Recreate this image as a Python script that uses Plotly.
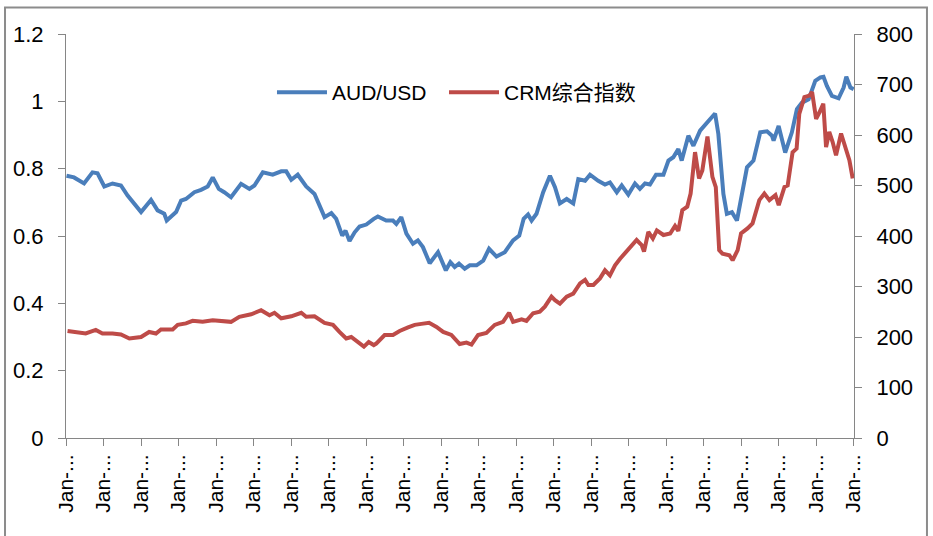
import plotly.graph_objects as go

# AUD/USD (left axis)
aud_dates = [
    "1991-01-06", "1991-03-20", "1991-06-26", "1991-09-16", "1991-11-04", "1992-01-09",
    "1992-03-29", "1992-06-19", "1992-08-23", "1992-10-27", "1993-01-01", "1993-04-08",
    "1993-06-11", "1993-08-15", "1993-09-08", "1993-12-08", "1994-01-26", "1994-03-14",
    "1994-06-04", "1994-08-08", "1994-10-12", "1994-11-30", "1995-01-28", "1995-03-22",
    "1995-05-27", "1995-09-02", "1995-11-22", "1996-01-10", "1996-04-01", "1996-07-06",
    "1996-09-27", "1996-11-15", "1997-01-03", "1997-03-07", "1997-05-28", "1997-08-17",
    "1997-10-22", "1997-11-23", "1998-01-28", "1998-03-16", "1998-05-14", "1998-06-15",
    "1998-07-24", "1998-09-12", "1998-10-30", "1999-01-04", "1999-03-17", "1999-04-26",
    "1999-07-16", "1999-09-20", "1999-10-23", "1999-12-10", "2000-01-29", "2000-04-02",
    "2000-05-20", "2000-07-08", "2000-09-12", "2000-12-02", "2001-02-16", "2001-04-01",
    "2001-05-13", "2001-06-24", "2001-08-19", "2001-10-07", "2001-12-12", "2002-02-15",
    "2002-04-13", "2002-06-24", "2002-09-13", "2002-12-03", "2003-02-01", "2003-03-16",
    "2003-04-28", "2003-06-01", "2003-07-19", "2003-09-22", "2003-11-27", "2004-01-15",
    "2004-03-03", "2004-05-08", "2004-07-11", "2004-08-29", "2004-11-03", "2004-12-21",
    "2005-03-11", "2005-05-16", "2005-07-03", "2005-09-08", "2005-10-26", "2005-12-29",
    "2006-03-04", "2006-04-21", "2006-06-10", "2006-07-28", "2006-09-25", "2006-12-06",
    "2007-01-24", "2007-03-12", "2007-04-30", "2007-06-02", "2007-08-06", "2007-09-24",
    "2007-11-28", "2008-02-02", "2008-04-22", "2008-05-24", "2008-07-12", "2008-08-15",
    "2008-10-03", "2008-11-21", "2009-01-09", "2009-02-27", "2009-05-01", "2009-07-06",
    "2009-09-10", "2009-10-28", "2009-11-13", "2010-01-01", "2010-03-06", "2010-05-10",
    "2010-06-28", "2010-08-16", "2010-10-20", "2010-12-24", "2011-02-12", "2011-03-14",
    "2011-04-16", "2011-06-04", "2011-08-08", "2011-09-26", "2011-10-22", "2011-12-01",
    "2012-01-02",
]
aud_values = [
    0.779, 0.774, 0.756, 0.789, 0.786, 0.747,
    0.756, 0.750, 0.720, 0.695, 0.671, 0.707,
    0.676, 0.666, 0.646, 0.671, 0.705, 0.710,
    0.730, 0.737, 0.747, 0.774, 0.740, 0.730,
    0.715, 0.755, 0.740, 0.750, 0.789, 0.782,
    0.792, 0.792, 0.767, 0.782, 0.747, 0.725,
    0.676, 0.656, 0.668, 0.651, 0.601, 0.616,
    0.585, 0.611, 0.628, 0.634, 0.651, 0.658,
    0.646, 0.646, 0.636, 0.656, 0.607, 0.577,
    0.587, 0.567, 0.519, 0.552, 0.498, 0.522,
    0.508, 0.518, 0.503, 0.513, 0.513, 0.527,
    0.562, 0.539, 0.552, 0.587, 0.601, 0.651,
    0.664, 0.646, 0.666, 0.730, 0.779, 0.745,
    0.697, 0.710, 0.697, 0.769, 0.764, 0.782,
    0.764, 0.753, 0.759, 0.730, 0.750, 0.723,
    0.756, 0.740, 0.756, 0.753, 0.782, 0.782,
    0.824, 0.834, 0.858, 0.824, 0.898, 0.868,
    0.913, 0.937, 0.964, 0.903, 0.725, 0.666,
    0.671, 0.646, 0.725, 0.804, 0.824, 0.908,
    0.911, 0.898, 0.883, 0.927, 0.848, 0.908,
    0.977, 0.996, 1.006, 1.061, 1.071, 1.073,
    1.046, 1.016, 1.009, 1.041, 1.073, 1.041,
    1.036,
]

# CRM综合指数 (right axis)
crm_dates = [
    "1991-01-16", "1991-05-08", "1991-07-12", "1991-10-18", "1991-12-22", "1992-03-29",
    "1992-06-19", "1992-09-09", "1993-01-01", "1993-03-21", "1993-05-26", "1993-07-14",
    "1993-11-05", "1993-12-24", "1994-03-14", "1994-05-18", "1994-08-24", "1994-11-30",
    "1995-01-20", "1995-05-27", "1995-08-16", "1995-12-09", "1996-03-15", "1996-06-05",
    "1996-07-23", "1996-09-27", "1997-01-03", "1997-04-10", "1997-05-28", "1997-08-17",
    "1997-11-23", "1998-02-13", "1998-04-17", "1998-06-22", "1998-08-10", "1998-10-13",
    "1998-12-11", "1999-01-27", "1999-03-17", "1999-04-10", "1999-07-01", "1999-09-20",
    "1999-11-24", "2000-02-14", "2000-04-19", "2000-06-23", "2000-09-06", "2000-11-17",
    "2001-01-21", "2001-04-11", "2001-07-01", "2001-09-05", "2001-10-24", "2001-12-27",
    "2002-03-18", "2002-06-07", "2002-08-27", "2002-10-25", "2002-12-03", "2003-02-24",
    "2003-04-12", "2003-06-16", "2003-08-20", "2003-10-08", "2003-12-12", "2004-01-15",
    "2004-03-03", "2004-05-08", "2004-07-11", "2004-09-15", "2004-11-03", "2004-12-05",
    "2005-01-23", "2005-03-28", "2005-05-16", "2005-07-03", "2005-08-22", "2005-10-10",
    "2005-12-14", "2006-01-16", "2006-03-20", "2006-05-08", "2006-05-31", "2006-07-12",
    "2006-08-25", "2006-10-03", "2006-12-06", "2007-02-10", "2007-03-29", "2007-04-30",
    "2007-06-08", "2007-07-26", "2007-08-28", "2007-10-10", "2007-11-18", "2007-12-20",
    "2008-02-08", "2008-03-27", "2008-04-29", "2008-06-01", "2008-07-03", "2008-09-08",
    "2008-10-10", "2008-11-28", "2008-12-31", "2009-03-04", "2009-04-22", "2009-06-27",
    "2009-08-15", "2009-10-03", "2009-12-01", "2010-01-02", "2010-02-27", "2010-03-30",
    "2010-05-17", "2010-06-25", "2010-07-21", "2010-09-09", "2010-10-27", "2010-11-23",
    "2011-01-01", "2011-02-03", "2011-03-12", "2011-04-08", "2011-05-09", "2011-06-11",
    "2011-07-14", "2011-09-01", "2011-10-20", "2011-11-21", "2011-12-23",
]
crm_values = [
    212, 210, 207, 214, 207, 207,
    205, 197, 200, 210, 207, 215,
    215, 224, 227, 232, 230, 233,
    232, 230, 240, 245, 253, 243,
    248, 237, 241, 248, 240, 241,
    228, 224, 210, 197, 200, 190,
    181, 190, 184, 187, 204, 204,
    212, 219, 224, 226, 228, 220,
    210, 204, 186, 189, 185, 204,
    208, 224, 230, 248, 230, 235,
    232, 247, 250, 260, 280, 273,
    266, 280, 286, 306, 313, 303,
    303, 316, 332, 322, 342, 355,
    369, 378, 392, 382, 369, 408,
    395, 411, 402, 405, 420, 410,
    451, 458, 484, 566, 514, 530,
    597, 517, 497, 372, 365, 362,
    352, 372, 405, 415, 425, 471,
    484, 471, 481, 461, 497, 500,
    566, 573, 642, 675, 678, 685,
    632, 645, 662, 576, 606, 586,
    560, 603, 570, 550, 514,
]

tick_dates = [f"{y}-01-01" for y in range(1991, 2013)]
tick_labels = ["Jan-..."] * len(tick_dates)

FONT = "Liberation Sans, Arial, Noto Sans CJK SC, sans-serif"
AXIS_GREY = "#868686"

fig = go.Figure()

fig.add_trace(
    go.Scatter(
        x=aud_dates,
        y=aud_values,
        mode="lines",
        name="AUD/USD",
        legend="legend",
        line=dict(color="#4a7ebb", width=4),
    )
)
fig.add_trace(
    go.Scatter(
        x=crm_dates,
        y=crm_values,
        mode="lines",
        name="CRM综合指数",
        yaxis="y2",
        legend="legend2",
        line=dict(color="#be4b48", width=4),
    )
)

# outer chart frame (Excel-style border, runs off the bottom edge)
fig.add_shape(
    type="rect",
    xref="paper",
    yref="paper",
    x0=-0.0774,
    x1=1.0926,
    y0=-0.26,
    y1=1.0655,
    line=dict(color="#8c8c8c", width=2),
)

legend_style = dict(
    orientation="h",
    y=0.855,
    xanchor="left",
    yanchor="middle",
    font=dict(size=21),
    bgcolor="rgba(0,0,0,0)",
    itemwidth=50,
)

fig.update_layout(
    width=933,
    height=536,
    margin=dict(l=66, r=79, t=34, b=98, autoexpand=False),
    paper_bgcolor="white",
    plot_bgcolor="white",
    font=dict(family=FONT, size=22, color="black"),
    showlegend=True,
    legend=dict(x=0.2614, **legend_style),
    legend2=dict(x=0.4797, **legend_style),
    xaxis=dict(
        type="date",
        range=["1991-01-01", "2012-01-05"],
        tickvals=tick_dates,
        ticktext=tick_labels,
        tickangle=-90,
        tickfont=dict(size=21),
        ticks="outside",
        ticklen=7,
        tickcolor=AXIS_GREY,
        showline=True,
        linecolor=AXIS_GREY,
        showgrid=False,
        zeroline=False,
        automargin=False,
    ),
    yaxis=dict(
        range=[0, 1.2],
        dtick=0.2,
        ticks="outside",
        ticklen=7,
        tickcolor=AXIS_GREY,
        ticklabelstandoff=10,
        showline=True,
        linecolor=AXIS_GREY,
        showgrid=False,
        zeroline=False,
        automargin=False,
    ),
    yaxis2=dict(
        range=[0, 800],
        dtick=100,
        overlaying="y",
        side="right",
        ticks="outside",
        ticklen=7,
        tickcolor=AXIS_GREY,
        ticklabelstandoff=10,
        showline=True,
        linecolor=AXIS_GREY,
        showgrid=False,
        zeroline=False,
        automargin=False,
    ),
)

# drop the browser's default 8px body margin so the figure sits at the page origin
fig.write_html(
    "out.html",
    config={"displayModeBar": False},
    post_script="document.body.style.margin = '0';",
)
